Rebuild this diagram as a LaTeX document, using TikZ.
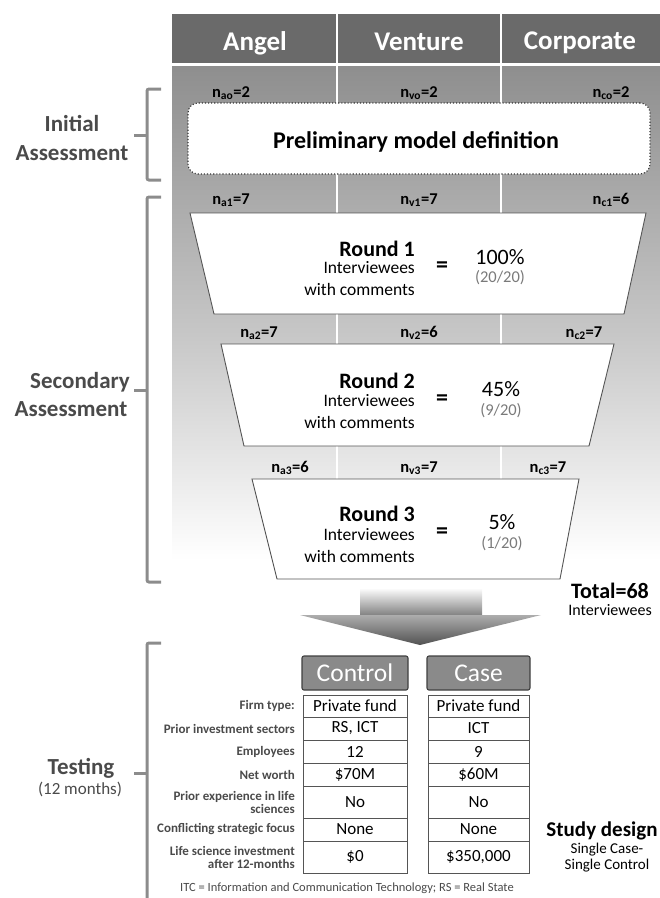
\documentclass[tikz,border=0pt]{standalone}
\usepackage{fontspec}
\setmainfont{Carlito}
\definecolor{hdr}{HTML}{6A6A6A}
\definecolor{bodytop}{HTML}{8E8E8E}
\definecolor{bodymid}{HTML}{C6C6C6}
\definecolor{brc}{HTML}{8C8C8C}
\definecolor{txt}{HTML}{4A4A4A}
\definecolor{edge}{HTML}{555555}
\definecolor{gtxt}{HTML}{7A7A7A}
\definecolor{caseg}{HTML}{8A8A8A}
\newcommand{\fs}[1]{\fontsize{#1}{#1}\selectfont}
\tikzset{
  colhead/.style={text=white, font=\bfseries\fs{27}, inner sep=0, anchor=base},
  nlbl/.style={font=\bfseries\fs{16.5}, inner sep=0, text=black},
  brace/.style={draw=brc, line width=3pt, rounded corners=2pt},
  sidelbl/.style={font=\bfseries\fs{23}, text=txt, inner sep=0, align=center},
  trap/.style={draw=edge, line width=0.9pt, fill=white},
  rnd/.style={font=\bfseries\fs{22}, inner sep=0, anchor=east},
  rtxt/.style={font=\fs{17.5}, inner sep=0, anchor=east},
  eqs/.style={font=\bfseries\fs{24}, inner sep=0},
  pct/.style={font=\fs{22}, inner sep=0},
  frac/.style={font=\fs{16.5}, inner sep=0, text=gtxt},
  cell/.style={draw=edge, line width=0.9pt, fill=white, font=\fs{17}, inner sep=0},
  rowlbl/.style={font=\bfseries\fs{13}, text=txt, inner sep=0, align=right, anchor=east},
  caseh/.style={draw=black!75, fill=caseg, line width=1.1pt, rounded corners=2pt, text=white, font=\fs{25.5}, inner sep=0, minimum height=34pt}
}
\begin{document}
\begin{tikzpicture}[x=1pt,y=-1pt]
\useasboundingbox (0,0) rectangle (660,898);
% background of the columns
\fill[hdr] (172,14) rectangle (660,64);
\shade[top color=bodytop, bottom color=bodymid] (172,64) rectangle (660,330);
\shade[top color=bodymid, bottom color=white] (172,330) rectangle (660,560);
\draw[white, line width=3pt] (172,64.5) -- (660,64.5);
\draw[white, line width=2.5pt] (337,14) -- (337,500);
\draw[white, line width=2.5pt] (501,14) -- (501,500);
\node[colhead] (angel) at (255,50) {Angel};
\node[colhead] (venture) at (419,50) {Venture};
\node[colhead] (corp) at (580,49) {Corporate};

% braces and side labels
\draw[brace] (161,89) -- (147,89) -- (147,180) -- (161,180);
\draw[brace] (147,135) -- (134,135);
\draw[brace] (161,197) -- (147,197) -- (147,582) -- (161,582);
\draw[brace] (147,390) -- (134,390);
\draw[brace] (161,643) -- (147,643) -- (147,905);
\draw[brace] (147,773) -- (134,773);
\node[sidelbl] (ia1) at (72,123) {Initial};
\node[sidelbl] (ia2) at (72,153) {Assessment};
\node[sidelbl] (sa1) at (80,382) {Secondary};
\node[sidelbl] (sa2) at (71,409) {Assessment};
\node[sidelbl] (te1) at (81,768) {Testing};
\node[font=\fs{17}, text=txt, inner sep=0] (te2) at (80,789) {(12 months)};

% initial assessment
\node[nlbl] (nao) at (231,93) {n\textsubscript{ao}=2};
\node[nlbl] (nvo) at (419,93) {n\textsubscript{vo}=2};
\node[nlbl] (nco) at (611,93) {n\textsubscript{co}=2};
\node[draw=black!80, dotted, line width=1.1pt, rounded corners=10pt, fill=white,
      minimum width=462pt, minimum height=71pt, inner sep=0] (prelim) at (419,138.5) {};
\node[font=\bfseries\fs{24}, inner sep=0] (prelimt) at (416,142) {Preliminary model definition};

% round 1
\node[nlbl] (na1) at (231,200) {n\textsubscript{a1}=7};
\node[nlbl] (nv1) at (419,200) {n\textsubscript{v1}=7};
\node[nlbl] (nc1) at (611,200) {n\textsubscript{c1}=6};
\draw[trap] (190,213) -- (646,213) -- (624,314) -- (214,314) -- cycle;
\node[rnd] (r1) at (415,249) {Round 1};
\node[rtxt] (r1a) at (415,268) {Interviewees};
\node[rtxt] (r1b) at (415,289) {with comments};
\node[eqs] (r1e) at (442,267) {=};
\node[pct] (r1p) at (500,257) {100\%};
\node[frac] (r1f) at (500,278) {(20/20)};

% round 2
\node[nlbl] (na2) at (259,333) {n\textsubscript{a2}=7};
\node[nlbl] (nv2) at (419,333) {n\textsubscript{v2}=6};
\node[nlbl] (nc2) at (584,333) {n\textsubscript{c2}=7};
\draw[trap] (221,344) -- (614,344) -- (589,446) -- (244,446) -- cycle;
\node[rnd] (r2) at (415,381) {Round 2};
\node[rtxt] (r2a) at (415,401) {Interviewees};
\node[rtxt] (r2b) at (415,422) {with comments};
\node[eqs] (r2e) at (442,400) {=};
\node[pct] (r2p) at (501,389) {45\%};
\node[frac] (r2f) at (501,411) {(9/20)};

% round 3
\node[nlbl] (na3) at (290,468) {n\textsubscript{a3}=6};
\node[nlbl] (nv3) at (419,468) {n\textsubscript{v3}=7};
\node[nlbl] (nc3) at (548,468) {n\textsubscript{c3}=7};
\draw[trap] (252,479) -- (579,479) -- (560,579) -- (277,579) -- cycle;
\node[rnd] (r3) at (415,514) {Round 3};
\node[rtxt] (r3a) at (415,535) {Interviewees};
\node[rtxt] (r3b) at (415,556) {with comments};
\node[eqs] (r3e) at (442,533) {=};
\node[pct] (r3p) at (502,522) {5\%};
\node[frac] (r3f) at (502,544) {(1/20)};

% total
\node[font=\bfseries\fs{22}, inner sep=0, anchor=east] (tot) at (649,591) {Total=68};
\node[font=\fs{16}, inner sep=0, anchor=east] (totb) at (652,610) {Interviewees};

% arrow
\shade[top color=white, bottom color=black!50] (360,588) rectangle (482,615.5);
\shade[top color=black!32, bottom color=black!68] (300,615) -- (541,615) -- (420,645) -- cycle;

% table
\node[caseh, minimum width=106pt] (ctlh) at (355,673) {Control};
\node[caseh, minimum width=103pt] (caseh) at (478.5,673) {Case};
\foreach \i/\t/\b/\lab/\ca/\cb in {
  1/695/717/{Firm type:}/{Private fund}/{Private fund},
  2/717/740/{Prior investment sectors}/{RS, ICT}/{ICT},
  3/740/763/{Employees}/{12}/{9},
  4/763/786/{Net worth}/{\$70M}/{\$60M},
  5/786/818/{Prior experience in life\\sciences}/{No}/{No},
  6/818/841/{Conflicting strategic focus}/{None}/{None},
  7/841/873/{Life science investment\\after 12-months}/{\$0}/{\$350,000}}
{
  \node[cell, minimum width=104pt, minimum height={(\b-\t)*1pt}] (ctl\i) at (355,{(\t+\b)/2}) {\ca};
  \node[cell, minimum width=101pt, minimum height={(\b-\t)*1pt}] (cas\i) at (478.5,{(\t+\b)/2}) {\cb};
  \node[rowlbl] (lab\i) at (295,{(\t+\b)/2}) {\lab};
}

% study design
\node[font=\bfseries\fs{21}, inner sep=0] (sd) at (602,831) {Study design};
\node[font=\fs{15}, inner sep=0, align=center] (sd2) at (607,858) {Single Case-\\[1pt]Single Control};

% footnote
\node[font=\fs{12.5}, text=txt, inner sep=0] (foot) at (347,888) {ITC = Information and Communication Technology; RS = Real State};
\end{tikzpicture}
\end{document}
